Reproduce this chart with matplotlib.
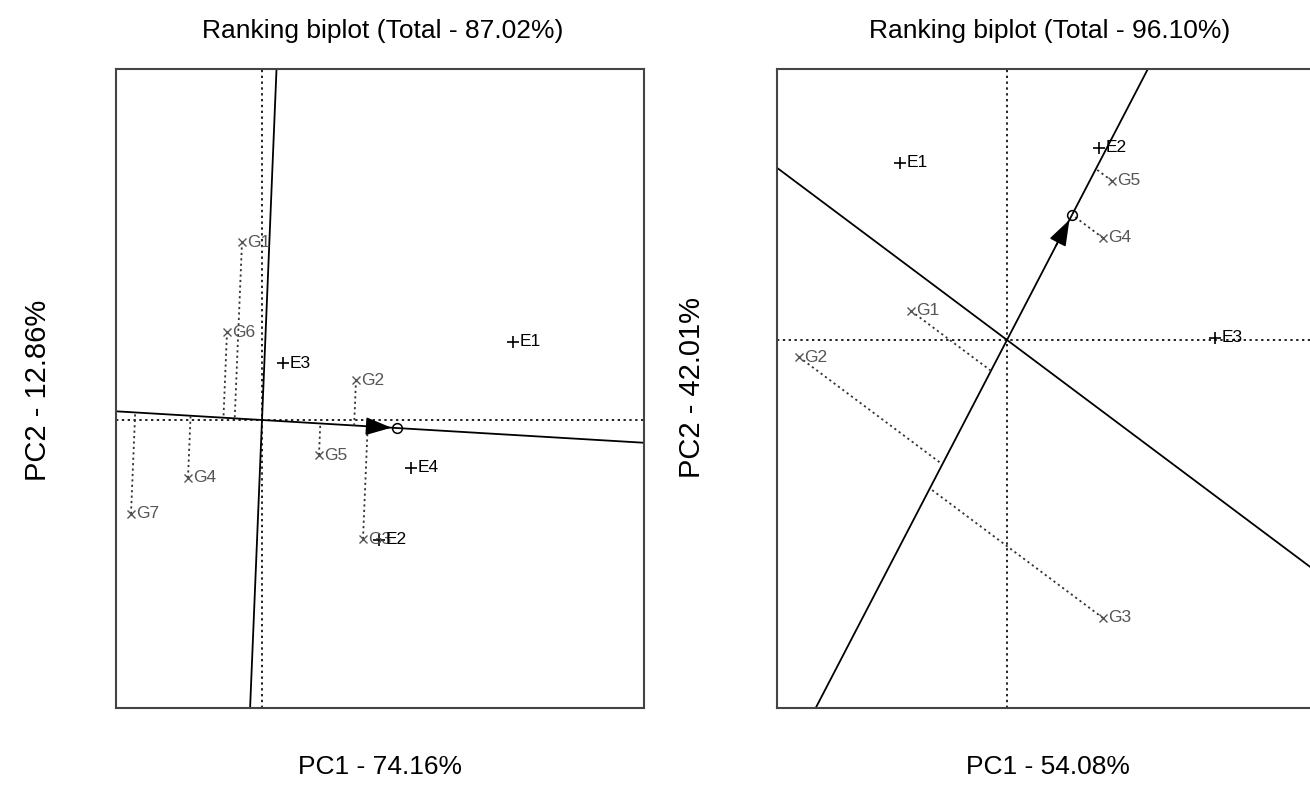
import matplotlib.pyplot as plt
import numpy as np

plt.rcParams['font.family'] = ['Liberation Sans', 'DejaVu Sans']

# left biplot (PC1 74.16%, PC2 12.86%)
left_env = ['E1', 'E2', 'E3', 'E4']
left_env_x = [2.51, 1.17, 0.21, 1.49]
left_env_y = [0.65, -1.00, 0.475, -0.40]
left_gen = ['G1', 'G2', 'G3', 'G4', 'G5', 'G6', 'G7']
left_gen_x = [-0.20, 0.94, 1.01, -0.74, 0.57, -0.35, -1.31]
left_gen_y = [1.483, 0.333, -0.992, -0.483, -0.292, 0.733, -0.783]
left_mean = [1.35, -0.067]

# right biplot (PC1 54.08%, PC2 42.01%)
right_env = ['E1', 'E2', 'E3']
right_env_x = [-1.07, 0.92, 2.08]
right_env_y = [1.475, 1.60, 0.017]
right_gen = ['G1', 'G2', 'G3', 'G4', 'G5']
right_gen_x = [-0.96, -2.08, 0.96, 0.96, 1.05]
right_gen_y = [0.242, -0.142, -2.317, 0.85, 1.325]
right_mean = [0.65, 1.042]


def ranking_biplot(ax, env, ex, ey, gen, gx, gy, mean, xlim, ylim):
    m = np.array(mean)
    d = m / np.linalg.norm(m)
    perp = np.array([-d[1], d[0]])

    # dotted PC axes
    ax.axhline(0, ls=(0, (1.2, 1.8)), color='#222222', lw=1.4)
    ax.axvline(0, ls=(0, (1.2, 1.8)), color='#222222', lw=1.4)

    # average environment axis and its perpendicular
    big = 20
    ax.plot([-big * d[0], big * d[0]], [-big * d[1], big * d[1]], color='black', lw=1.3)
    ax.plot([-big * perp[0], big * perp[0]], [-big * perp[1], big * perp[1]], color='black', lw=1.3)

    # projections of genotypes onto the average environment axis
    for x, y in zip(gx, gy):
        t = x * d[0] + y * d[1]
        ax.plot([x, t * d[0]], [y, t * d[1]], ls=(0, (1.2, 1.8)), color='#333333', lw=1.3)

    # arrow to the average environment
    ax.annotate('', xy=m, xytext=m - 0.3 * d,
                arrowprops=dict(arrowstyle='-|>,head_length=0.8,head_width=0.28',
                                color='black', lw=1.2, shrinkA=0, shrinkB=4,
                                mutation_scale=20))
    ax.plot(m[0], m[1], 'o', mfc='none', mec='black', ms=7, mew=1.1)

    ax.plot(gx, gy, 'x', color='#555555', ms=5.5, mew=1.0, ls='none')
    for name, x, y in zip(gen, gx, gy):
        ax.annotate(name, (x, y), xytext=(3.5, 0), textcoords='offset points',
                    va='center', ha='left', fontsize=12.5, color='#555555')

    ax.plot(ex, ey, '+', color='black', ms=8.5, mew=1.2, ls='none')
    for name, x, y in zip(env, ex, ey):
        ax.annotate(name, (x, y), xytext=(4.5, 0), textcoords='offset points',
                    va='center', ha='left', fontsize=12.5, color='black')

    ax.set_xlim(xlim)
    ax.set_ylim(ylim)
    ax.set_xticks([])
    ax.set_yticks([])
    for sp in ax.spines.values():
        sp.set_color('#444444')
        sp.set_linewidth(1.5)


fig = plt.figure(figsize=(13.1, 8.1), dpi=100)
W, H = 1310, 810

ax1 = fig.add_axes([116 / W, 1 - 708 / H, 528 / W, 639 / H])
ranking_biplot(ax1, left_env, left_env_x, left_env_y, left_gen, left_gen_x, left_gen_y,
               left_mean, (-1.46, 3.82), (-2.40, 2.925))

ax2 = fig.add_axes([777 / W, 1 - 708 / H, 546 / W, 639 / H])
ranking_biplot(ax2, right_env, right_env_x, right_env_y, right_gen, right_gen_x, right_gen_y,
               right_mean, (-2.30, 3.16), (-3.067, 2.258))

fig.text(383 / W, 1 - 31 / H, 'Ranking biplot (Total - 87.02%)', ha='center', va='center', fontsize=19)
fig.text(1050 / W, 1 - 31 / H, 'Ranking biplot (Total - 96.10%)', ha='center', va='center', fontsize=19)
fig.text(380 / W, 1 - 767 / H, 'PC1 - 74.16%', ha='center', va='center', fontsize=19)
fig.text(1048 / W, 1 - 767 / H, 'PC1 - 54.08%', ha='center', va='center', fontsize=19)
fig.text(38 / W, 1 - 390 / H, 'PC2 - 12.86%', ha='center', va='center', fontsize=21, rotation=90)
fig.text(692 / W, 1 - 387 / H, 'PC2 - 42.01%', ha='center', va='center', fontsize=21, rotation=90)

fig.savefig('out.png', dpi=100)
